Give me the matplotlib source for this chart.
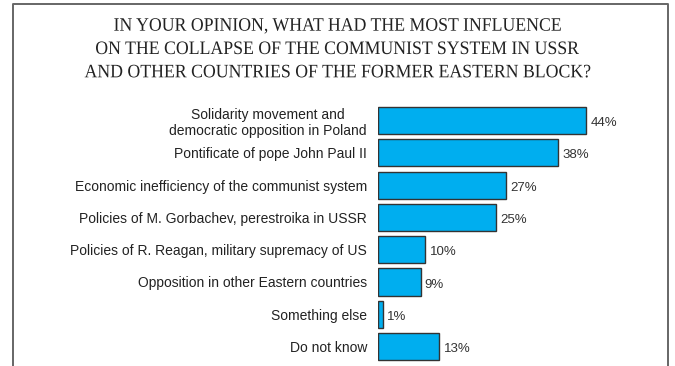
import matplotlib.pyplot as plt
from matplotlib.lines import Line2D
from matplotlib.textpath import TextPath
from matplotlib.patches import PathPatch
from matplotlib.font_manager import FontProperties
from matplotlib.transforms import Affine2D, IdentityTransform

# Survey answers, top to bottom
categories = [
    'Solidarity movement and\ndemocratic opposition in Poland',
    'Pontificate of pope John Paul II',
    'Economic inefficiency of the communist system',
    'Policies of M. Gorbachev, perestroika in USSR',
    'Policies of R. Reagan, military supremacy of US',
    'Opposition in other Eastern countries',
    'Something else',
    'Do not know',
]
values = [44, 38, 27, 25, 10, 9, 1, 13]
value_labels = ['44%', '38%', '27%', '25%', '10%', '9%', '1%', '13%']

title_lines = [
    'IN YOUR OPINION, WHAT HAD THE MOST INFLUENCE',
    'ON THE COLLAPSE OF THE COMMUNIST SYSTEM IN USSR',
    'AND OTHER COUNTRIES OF THE FORMER EASTERN BLOCK?',
]

W, H = 675, 366
fig = plt.figure(figsize=(W / 100, H / 100), dpi=100)

# axes placed in pixel terms
left_px, right_px, top_px = 378, 667, 100
ax = fig.add_axes([left_px / W, 0, (right_px - left_px) / W, (H - top_px) / H])
px_per_pct = 4.73
ax.set_xlim(0, (right_px - left_px) / px_per_pct)
step = 32.3
ax.set_ylim((H - 120.5) / step, -(120.5 - top_px) / step)

y = list(range(len(values)))
ax.barh(y, values, height=0.84, color='#00AEEF', edgecolor='#333333', linewidth=1.0)
for yi, v, lab in zip(y, values, value_labels):
    ax.text(v + 0.9, yi + 0.08, lab, va='center', ha='left', fontsize=9.5,
            color='#333333', family='Liberation Sans')

ax.set_yticks(y)
ax.set_yticklabels(categories, fontsize=10, family='Liberation Sans', color='#222222')
for lab in ax.get_yticklabels():
    lab.set_multialignment('center')
ax.tick_params(axis='y', length=0, pad=8)
ax.set_xticks([])
for s in ax.spines.values():
    s.set_visible(False)

# title: condensed serif, drawn as paths in pixel units
fp = FontProperties(family='Liberation Serif')
size_px = 19
baselines = [30.7, 54.0, 77.3]
paths = [TextPath((0, 0), t, size=size_px, prop=fp) for t in title_lines]
w2 = paths[1].get_extents().width
sx = 483 / w2
for p, b in zip(paths, baselines):
    ext = p.get_extents()
    w = ext.width * sx
    tr = Affine2D().scale(sx, 1).translate(W / 2 - w / 2 - ext.x0 * sx, H - b)
    fig.add_artist(PathPatch(tr.transform_path(p), facecolor='#222222',
                             edgecolor='none', transform=IdentityTransform()))

# frame: left, top and right sides only
bc = '#666666'
x0, x1, yt = 12.5 / W, 667.5 / W, 1 - 4 / H
fig.add_artist(Line2D([x0, x0, x1, x1], [0, yt, yt, 0], color=bc, lw=1.4,
                      transform=fig.transFigure))

fig.savefig('out.png', dpi=100)
